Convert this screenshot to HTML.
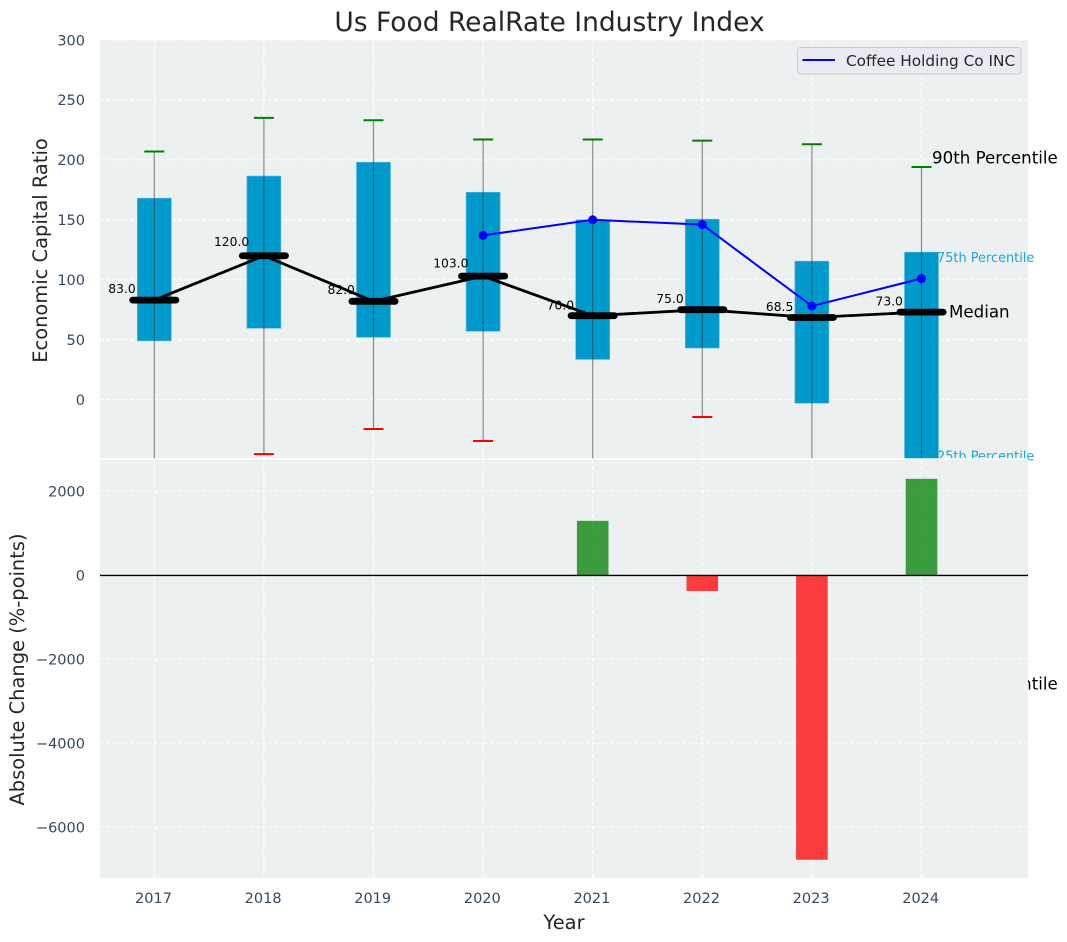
<!DOCTYPE html>
<html>
<head>
<meta charset="utf-8">
<title>Us Food RealRate Industry Index</title>
<style>
html,body{margin:0;padding:0;background:#fff;width:1067px;height:942px;overflow:hidden}
svg{display:block;font-family:"DejaVu Sans","Liberation Sans",sans-serif}
</style>
</head>
<body>
<svg id="chart" xmlns="http://www.w3.org/2000/svg" width="1067" height="942" viewBox="0 0 1067 942"></svg>
<script>
const years = [2017, 2018, 2019, 2020, 2021, 2022, 2023, 2024];
const p90 = [207, 235, 233, 217, 217, 216, 213, 194];
const p75 = [168, 186.5, 198, 173, 150, 150.5, 115.5, 123];
const medians = [83, 120, 82, 103, 70, 75, 68.5, 73];
const p25 = [49, 59.5, 52, 57, 33.5, 43, -3, -50];
const p10 = [-60, -45.5, -24.5, -34.5, -70, -14.5, -80, -245];
const company = [null, null, null, 137, 150, 146, 78, 101];
const changes = [null, null, null, null, 1290, -380, -6780, 2290];
const topTicks = [0, 50, 100, 150, 200, 250, 300];
const bottomTicks = [-6000, -4000, -2000, 0, 2000];

const NS = 'http://www.w3.org/2000/svg';
const svg = document.getElementById('chart');
const xPos = v => 154.3 + (v - 2017) * 109.6;
const yTop = v => 399.6 - v * 1.1987;
const yBot = v => 575 - v * 0.042;
const INK = '#262626';
const TICK = '#34495e';

function add(parent, tag, attrs, text) {
  const el = document.createElementNS(NS, tag);
  for (const k in attrs) el.setAttribute(k, attrs[k]);
  if (text !== undefined) el.textContent = text;
  parent.appendChild(el);
  return el;
}

const defs = add(svg, 'defs', {});
const clip = add(defs, 'clipPath', {id: 'top-clip'});
add(clip, 'rect', {x: 100, y: 40, width: 928, height: 418.5});
const clipB = add(defs, 'clipPath', {id: 'bottom-clip'});
add(clipB, 'rect', {x: 100, y: 460, width: 928, height: 418});

/* top panel */
const topBg = add(svg, 'rect', {x: 100, y: 40, width: 928, height: 418.5, fill: '#ecf0f1'});



const gridStyle = {stroke: '#ffffff', 'stroke-width': 1, 'stroke-dasharray': '4 2', fill: 'none'};
topTicks.forEach(t => {
  const g = add(svg, 'line', Object.assign({x1: 100, x2: 1028, y1: yTop(t), y2: yTop(t)}, gridStyle));
  
  
  const l = add(svg, 'text', {x: 85, y: yTop(t) + 5.3, 'text-anchor': 'end', 'font-size': 14.5, fill: TICK}, String(t));
  
  
});
years.forEach(y => {
  const g = add(svg, 'line', Object.assign({x1: xPos(y), x2: xPos(y), y1: 40, y2: 458}, gridStyle));
  
  
});

const topLayer = add(svg, 'g', {'clip-path': 'url(#top-clip)'});



years.forEach((y, i) => {
  const hi = yTop(p75[i]), lo = yTop(p25[i]);
  const box = add(topLayer, 'rect', {x: xPos(y) - 17, y: hi, width: 34, height: lo - hi, fill: '#0099cc', stroke: '#5bbbdc', 'stroke-width': 0.6});
  
  
});
years.forEach((y, i) => {
  const w = add(topLayer, 'line', {x1: xPos(y), x2: xPos(y), y1: yTop(p90[i]), y2: yTop(p10[i]), stroke: '#333333', 'stroke-opacity': 0.55, 'stroke-width': 1.2});
  
  
  const c1 = add(topLayer, 'line', {x1: xPos(y) - 10, x2: xPos(y) + 10, y1: yTop(p90[i]), y2: yTop(p90[i]), stroke: '#008000', 'stroke-width': 2});
  
  
  const c2 = add(topLayer, 'line', {x1: xPos(y) - 10, x2: xPos(y) + 10, y1: yTop(p10[i]), y2: yTop(p10[i]), stroke: '#ff0000', 'stroke-width': 2});
  
  
});

/* median labels */
years.forEach((y, i) => {
  const t = add(svg, 'text', {x: xPos(y) - 32.3, y: yTop(medians[i] * 1.055) - 1.8, 'text-anchor': 'middle', 'font-size': 12.3, fill: '#000'}, medians[i].toFixed(1));
  
  
});

/* median line and bars */
const medLine = add(topLayer, 'polyline', {points: years.map((y, i) => xPos(y) + ',' + yTop(medians[i])).join(' '), fill: 'none', stroke: '#000', 'stroke-width': 2.8});


years.forEach((y, i) => {
  const m = add(topLayer, 'line', {x1: xPos(y) - 21.6, x2: xPos(y) + 21.6, y1: yTop(medians[i]), y2: yTop(medians[i]), stroke: '#000', 'stroke-width': 6.8, 'stroke-linecap': 'round'});
  
  
});

/* company series */
const pts = years.map((y, i) => company[i] === null ? null : [xPos(y), yTop(company[i])]).filter(Boolean);
const coLine = add(topLayer, 'polyline', {points: pts.map(p => p.join(',')).join(' '), fill: 'none', stroke: '#0000ff', 'stroke-width': 2});


pts.forEach(p => {
  const c = add(topLayer, 'circle', {cx: p[0], cy: p[1], r: 4.5, fill: '#0000ff'});
  
  
});

/* percentile annotations, last year */
const li = years.length - 1;
const lx = xPos(years[li]);
const a90 = add(svg, 'text', {x: lx + 10.5, y: yTop(p90[li]) - 3.7, 'font-size': 16.67, fill: '#000'}, '90th Percentile');


const a75 = add(svg, 'text', {x: lx + 15.5, y: yTop(p75[li]) + 10, 'font-size': 12.9, fill: '#1fa6d3'}, '75th Percentile');


const aMed = add(svg, 'text', {x: lx + 27.5, y: yTop(medians[li]) + 5.2, 'font-size': 16.67, fill: '#000'}, 'Median');


const a25 = add(svg, 'text', {x: lx + 15.5, y: yTop(p25[li]) + 1, 'font-size': 12.9, fill: '#1fa6d3'}, '25th Percentile');


const a10 = add(svg, 'text', {x: lx + 10.5, y: yTop(p10[li]) - 3.7, 'font-size': 16.67, fill: '#000'}, '10th Percentile');



/* legend */
const legend = add(svg, 'g', {});


const legBox = add(legend, 'rect', {x: 797.5, y: 47.5, width: 223.5, height: 26.5, rx: 3, fill: '#eaeaf2', stroke: '#cccccc', 'stroke-width': 1});


const legLine = add(legend, 'line', {x1: 802.5, x2: 835, y1: 60, y2: 60, stroke: '#0000ff', 'stroke-width': 2});


const legText = add(legend, 'text', {x: 846, y: 66, 'font-size': 15.3, fill: INK}, 'Coffee Holding Co INC');



/* bottom panel */
const botBg = add(svg, 'rect', {x: 100, y: 459.5, width: 928, height: 418.5, fill: '#ecf0f1'});


const sep = add(svg, 'line', {x1: 100, x2: 1028, y1: 459, y2: 459, stroke: '#ffffff', 'stroke-width': 1.6});



bottomTicks.forEach(t => {
  const g = add(svg, 'line', Object.assign({x1: 100, x2: 1028, y1: yBot(t), y2: yBot(t)}, gridStyle));
  
  
  const l = add(svg, 'text', {x: 85, y: yBot(t) + 5.3, 'text-anchor': 'end', 'font-size': 14.5, fill: TICK}, String(t).replace('-', '\u2212'));
  
  
});
years.forEach(y => {
  const g = add(svg, 'line', Object.assign({x1: xPos(y), x2: xPos(y), y1: 460, y2: 878}, gridStyle));
  
  
  const l = add(svg, 'text', {x: xPos(y) - 0.8, y: 903, 'text-anchor': 'middle', 'font-size': 14.5, fill: TICK}, String(y));
  
  
});

const botLayer = add(svg, 'g', {'clip-path': 'url(#bottom-clip)'});


years.forEach((y, i) => {
  if (changes[i] === null) return;
  const v = changes[i];
  const top = Math.min(yBot(v), yBot(0));
  const h = Math.abs(yBot(v) - yBot(0));
  const b = add(botLayer, 'rect', {x: xPos(y) - 15.8, y: top, width: 31.6, height: h, fill: v >= 0 ? '#008000' : '#ff0000', 'fill-opacity': 0.75});
  
  
});
const zero = add(svg, 'line', {x1: 100, x2: 1028, y1: yBot(0) + 0.4, y2: yBot(0) + 0.4, stroke: '#000', 'stroke-width': 1.4});



/* titles */
const title = add(svg, 'text', {x: 549.5, y: 31, 'text-anchor': 'middle', 'font-size': 26.5, fill: INK}, 'Us Food RealRate Industry Index');


const yl1 = add(svg, 'text', {transform: 'translate(47 250.5) rotate(-90)', 'text-anchor': 'middle', 'font-size': 19.45, fill: INK}, 'Economic Capital Ratio');


const yl2 = add(svg, 'text', {transform: 'translate(24 669.5) rotate(-90)', 'text-anchor': 'middle', 'font-size': 19.45, fill: INK}, 'Absolute Change (%-points)');


const xl = add(svg, 'text', {x: 564, y: 929, 'text-anchor': 'middle', 'font-size': 19.45, fill: INK}, 'Year');


</script>
</body>
</html>
